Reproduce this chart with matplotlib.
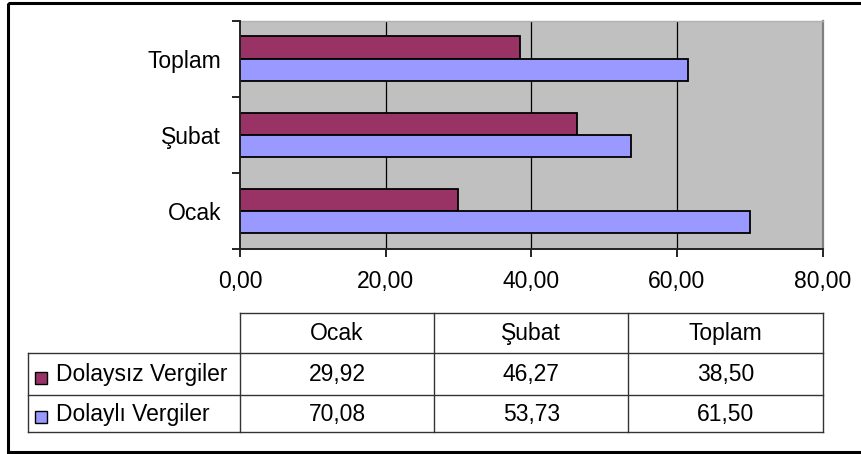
import matplotlib
matplotlib.use("Agg")
import matplotlib.pyplot as plt
from matplotlib.patches import Rectangle
from matplotlib.ticker import FixedLocator, FuncFormatter
import numpy as np

categories = ["Ocak", "Şubat", "Toplam"]
series_names = ["Dolaysız Vergiler", "Dolaylı Vergiler"]
dolaysiz = [29.92, 46.27, 38.50]
dolayli = [70.08, 53.73, 61.50]
x_ticks = [0, 20, 40, 60, 80]

colors = ["#993366", "#9999FF"]
plt.rcParams['font.family'] = ['Liberation Sans', 'DejaVu Sans']
FS = 16.5

W, H = 861, 454
fig = plt.figure(figsize=(W / 100, H / 100), dpi=100)

# plot area in pixel coords
L, R, T, B = 240, 822.5, 20.5, 249
ax = fig.add_axes([L / W, 1 - B / H, (R - L) / W, (B - T) / H])
ax.set_facecolor("#C0C0C0")

y = np.arange(len(categories))
h = 0.29
ax.barh(y + h / 2, dolaysiz, height=h, color=colors[0], edgecolor="black", linewidth=1.3, zorder=3)
ax.barh(y - h / 2, dolayli, height=h, color=colors[1], edgecolor="black", linewidth=1.3, zorder=3)

ax.set_xlim(x_ticks[0], x_ticks[-1])
ax.set_ylim(-0.5, len(categories) - 0.5)
ax.set_xticks(x_ticks)
ax.xaxis.set_major_formatter(FuncFormatter(lambda v, p: f"{v:.2f}".replace(".", ",")))
ax.tick_params(axis="x", direction="out", length=6, width=1.2, color="black", pad=9, labelsize=FS)
for gx in x_ticks[1:-1]:
    ax.axvline(gx, color="black", linewidth=0.9, zorder=1)

ax.yaxis.set_major_locator(FixedLocator(np.arange(-0.5, len(categories), 1.0)))
ax.yaxis.set_major_formatter(FuncFormatter(lambda v, p: ""))
ax.yaxis.set_minor_locator(FixedLocator(y))
ax.set_yticklabels(categories, minor=True)
ax.tick_params(axis="y", which="major", direction="out", length=6, width=1.2, color="black")
ax.tick_params(axis="y", which="minor", length=0, pad=13.5, labelsize=FS)

for s in ["left", "bottom"]:
    ax.spines[s].set_color("#222222")
    ax.spines[s].set_linewidth(1.4)
    ax.spines[s].set_zorder(5)
ax.spines["right"].set_color("#808080")
ax.spines["right"].set_linewidth(1.6)
ax.spines["top"].set_color("#B0B0B0")
ax.spines["top"].set_linewidth(1.0)

# overlay for table and outer frame
ov = fig.add_axes([0, 0, 1, 1])
ov.set_xlim(0, W)
ov.set_ylim(H, 0)
ov.axis("off")
ov.patch.set_alpha(0)

ov.add_patch(Rectangle((8, 2.5), 900, 449.5, fill=False, edgecolor="black", linewidth=2.2))

col_edges = np.linspace(L, R, len(categories) + 1)
row_top, row_h1, row_h2, row_h3 = 313, 353, 395, 432
lc = "#333333"
lw = 1.0
# horizontal lines
ov.plot([L, R], [row_top, row_top], color=lc, lw=lw)
for yy in [row_h1, row_h2, row_h3]:
    ov.plot([28, R], [yy, yy], color=lc, lw=lw)
# vertical lines
for xx in col_edges:
    ov.plot([xx, xx], [row_top, row_h3], color=lc, lw=lw)
ov.plot([28, 28], [row_h1, row_h3], color=lc, lw=lw)

centers_x = (col_edges[:-1] + col_edges[1:]) / 2
hdr_y = (row_top + row_h1) / 2 + 0.5
for cx, c in zip(centers_x, categories):
    ov.text(cx, hdr_y, c, ha="center", va="center", fontsize=FS)

row_ys = [(row_h1 + row_h2) / 2 + 0.5, (row_h2 + row_h3) / 2 + 0.5]
for ry, name, vals, col in zip(row_ys, series_names, [dolaysiz, dolayli], colors):
    ov.add_patch(Rectangle((35, ry - 3), 12, 12, facecolor=col, edgecolor="black", linewidth=1.0))
    ov.text(56, ry, name, ha="left", va="center", fontsize=FS)
    for cx, v in zip(centers_x, vals):
        ov.text(cx, ry, f"{v:.2f}".replace(".", ","), ha="center", va="center", fontsize=FS)

fig.savefig("out.png", dpi=100)
